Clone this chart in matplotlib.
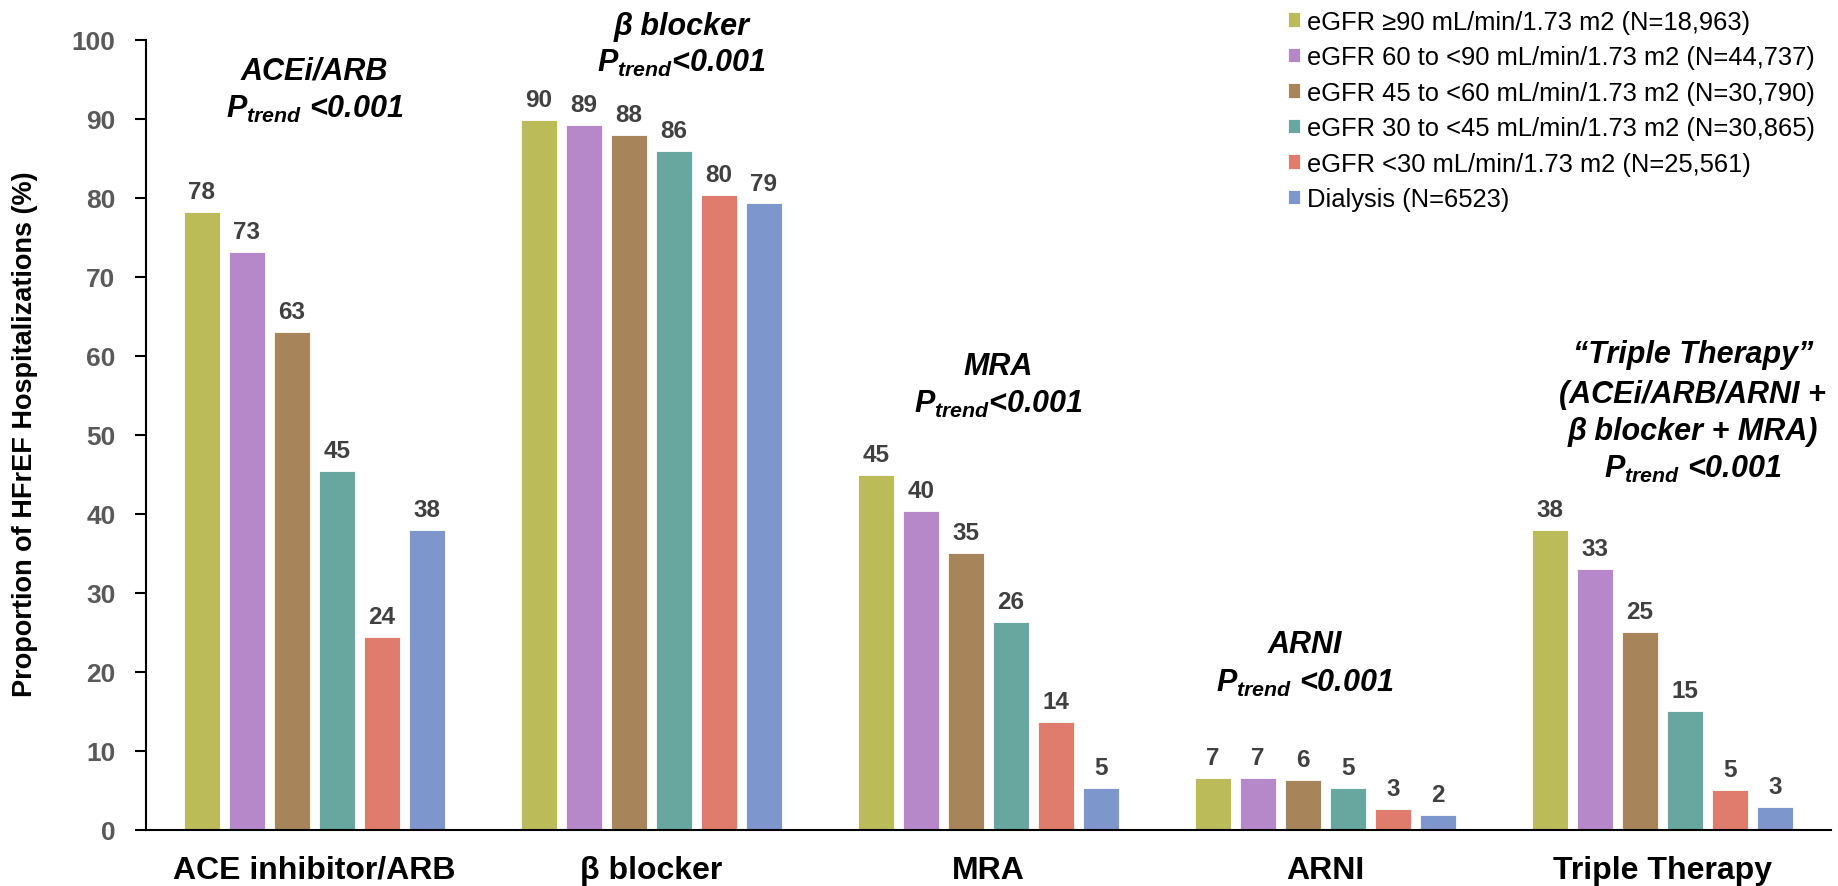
import numpy as np
import matplotlib
matplotlib.use("Agg")
import matplotlib.pyplot as plt

plt.rcParams["font.family"] = ["Liberation Sans", "DejaVu Sans"]
plt.rcParams["mathtext.fontset"] = "custom"
plt.rcParams["mathtext.it"] = "Liberation Sans:bold:italic"
plt.rcParams["mathtext.rm"] = "Liberation Sans:bold:italic"

# Therapy groups and eGFR strata
therapies = ["ACE inhibitor/ARB", "\u03b2 blocker", "MRA", "ARNI", "Triple Therapy"]
strata = [
    "eGFR \u226590 mL/min/1.73 m2 (N=18,963)",
    "eGFR 60 to <90 mL/min/1.73 m2 (N=44,737)",
    "eGFR 45 to <60 mL/min/1.73 m2 (N=30,790)",
    "eGFR 30 to <45 mL/min/1.73 m2 (N=30,865)",
    "eGFR <30 mL/min/1.73 m2 (N=25,561)",
    "Dialysis (N=6523)",
]
colors = ["#BBBB5A", "#B688C9", "#A8845A", "#67A7A0", "#E07C6E", "#7D96CC"]

# Proportion (%) per stratum, one list per therapy
ace_arb = [78.2, 73.2, 63.0, 45.4, 24.4, 38.0]
beta_blocker = [89.9, 89.2, 88.0, 85.9, 80.4, 79.3]
mra = [44.9, 40.4, 35.0, 26.3, 13.6, 5.3]
arni = [6.6, 6.6, 6.3, 5.3, 2.6, 1.9]
triple = [38.0, 33.0, 25.0, 15.0, 5.0, 2.9]
values = np.array([ace_arb, beta_blocker, mra, arni, triple])

# Trend-test notes above each group: (x, baseline y, text)
p_line = "$P_{trend}$<0.001"
p_line_sp = "$P_{trend}$ <0.001"
notes = [
    (0.0, 95.1, "ACEi/ARB"), (0.0, 90.2, p_line_sp),
    (1.09, 100.8, "\u03b2 blocker"), (1.09, 96.1, p_line),
    (2.03, 57.7, "MRA"), (2.03, 52.9, p_line),
    (2.94, 22.5, "ARNI"), (2.94, 17.6, p_line_sp),
    (4.09, 59.2, "\u201cTriple Therapy\u201d"), (4.09, 54.2, "(ACEi/ARB/ARNI +"),
    (4.09, 49.5, "\u03b2 blocker + MRA)"), (4.09, 44.7, p_line_sp),
]

fig = plt.figure(figsize=(18.38, 8.87), dpi=100)
ax = fig.add_axes([0.0794, 0.0635, 0.9168, 0.8903])

x = np.arange(len(therapies))
step = 0.1335
width = 0.107
for i, (label, color) in enumerate(zip(strata, colors)):
    pos = x + (i - 2.5) * step
    bars = ax.bar(pos, values[:, i], width=width, color=color, label=label,
                  edgecolor="white", linewidth=0.6)
    for b, v in zip(bars, values[:, i]):
        ax.annotate(f"{round(v)}", (b.get_x() + b.get_width() / 2, v),
                    xytext=(0, 10), textcoords="offset points",
                    ha="center", va="baseline", fontsize=17.5,
                    fontweight="bold", color="#404040")

for nx, ny, txt in notes:
    ax.text(nx, ny, txt, ha="center", va="baseline", fontsize=22,
            fontweight="bold", style="italic", color="black")

ax.set_xlim(-0.5, 4.5)
ax.set_ylim(0, 100)
ax.set_yticks(np.arange(0, 101, 10))
ax.set_xticks(x)
ax.set_xticklabels(therapies, fontsize=23, fontweight="bold")
ax.tick_params(axis="x", length=0, pad=18)
ax.tick_params(axis="y", length=8, width=1.5, pad=14, labelsize=19,
               labelcolor="#595959", direction="out")
for lbl in ax.get_yticklabels():
    lbl.set_fontweight("bold")

ax.spines["top"].set_visible(False)
ax.spines["right"].set_visible(False)
ax.spines["left"].set_linewidth(1.5)
ax.spines["bottom"].set_linewidth(1.5)

fig.text(0.0136, 0.51, "Proportion of HFrEF Hospitalizations (%)", rotation=90,
         ha="center", va="center", fontsize=19.5, fontweight="bold")

fig.legend(loc="upper left", bbox_to_anchor=(0.7005, 0.988), frameon=False,
           fontsize=18.4, handlelength=0.5, handleheight=0.5,
           handletextpad=0.25, labelspacing=0.45, borderpad=0, borderaxespad=0)

fig.savefig("out.png", dpi=100)
